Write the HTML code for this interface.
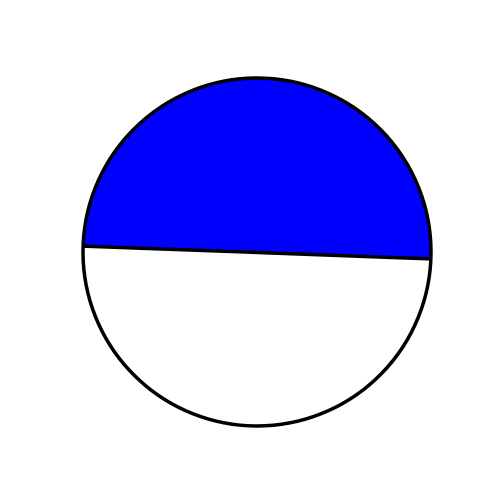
<!DOCTYPE html>
<html>
<head>
<meta charset="utf-8">
<style>
html,body{margin:0;padding:0;background:#fff;width:500px;height:500px;overflow:hidden;}
</style>
</head>
<body>
<svg id="chart" width="500" height="500" viewBox="0 0 500 500" xmlns="http://www.w3.org/2000/svg">
<defs>
<clipPath id="clip"><circle cx="257" cy="252" r="174"/></clipPath>
</defs>
<g id="ball" clip-path="url(#clip)"></g>
<circle cx="257" cy="252" r="174" fill="none" stroke="#000" stroke-width="3.5"/>
</svg>
<script>
// nodal line endpoints (pixel y at left / right edge of ball)
const nodalLeftY = [246];
const nodalRightY = [259];
const ns = "http://www.w3.org/2000/svg";
const g = document.getElementById('ball');
const cx = 257, cy = 252, r = 174;
const x0 = cx - r - 2, x1 = cx + r + 2;
const yL = nodalLeftY[0], yR = nodalRightY[0];

const bg = document.createElementNS(ns, 'circle');


bg.setAttribute('cx', cx); bg.setAttribute('cy', cy); bg.setAttribute('r', r);
bg.setAttribute('fill', '#fff');
g.appendChild(bg);

const comp = document.createElementNS(ns, 'path');


comp.setAttribute('d', `M${x0},${yL} L${x1},${yR} L${x1},${cy - r - 5} L${x0},${cy - r - 5} Z`);
comp.setAttribute('fill', '#0000ff');
g.appendChild(comp);

const line = document.createElementNS(ns, 'line');


line.setAttribute('x1', x0); line.setAttribute('y1', yL);
line.setAttribute('x2', x1); line.setAttribute('y2', yR);
line.setAttribute('stroke', '#000'); line.setAttribute('stroke-width', '3.5');
g.appendChild(line);
</script>
</body>
</html>
